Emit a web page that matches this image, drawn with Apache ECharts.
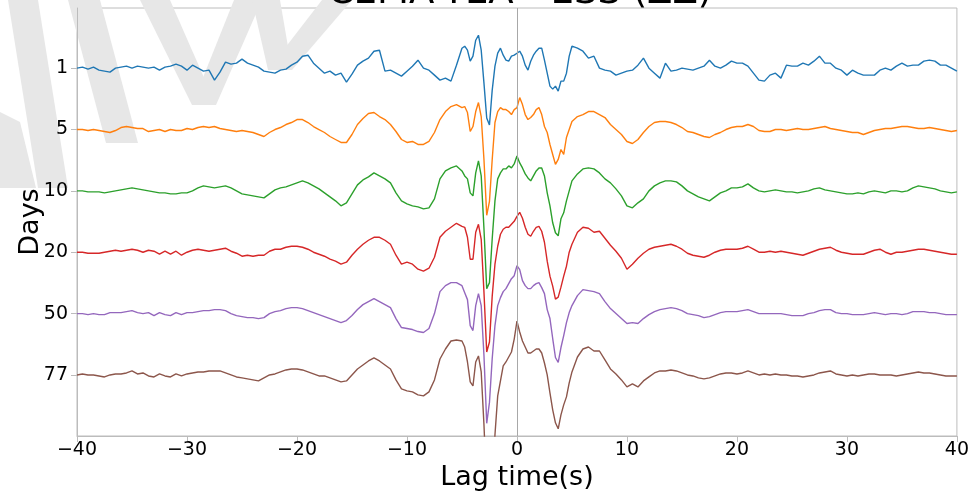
<!DOCTYPE html>
<html><head><meta charset="utf-8">
<script src="https://cdn.jsdelivr.net/npm/echarts@6/dist/echarts.min.js"></script>
<style>html,body{margin:0;padding:0;background:#fff}#c{width:972px;height:496px}</style>
</head><body><div id="c"></div>
<script>
// ---- data ----
const dayLabels = ['1', '5', '10', '20', '50', '77'];
const traceOffsets = [307.5, 246, 184.5, 123, 61.5, 0];
const xTickValues = [-40, -30, -20, -10, 0, 10, 20, 30, 40];
const seriesColors = ['#1f77b4', '#ff7f0e', '#2ca02c', '#d62728', '#9467bd', '#8c564b'];
const chartTitle = 'CEMA-YEA - ESS (ZZ)';

// sampling grid of lag times (s): 0.5 s outside, 0.25 s in the central part
const lagTimes = [];
for (let t = -40; t <= -5.5 + 1e-9; t += 0.5) lagTimes.push(t);
for (let t = -5; t <= 5 + 1e-9; t += 0.25) lagTimes.push(t);
for (let t = 5.5; t <= 40 + 1e-9; t += 0.5) lagTimes.push(t);

// waveform amplitudes (same units as traceOffsets)
const day1 = [
  0,1,-1,1,-2,-3,-4,0,1,2, 0,2,1,0,1,-2,1,2,4,2, -2,3,0,-3,-2,-12,-4,6,4,5,
  9,5,3,1,-3,-4,-5,-2,-1,3, 6,12,13,5,0,-5,-3,-7,-5,-14, -6,3,7,10,17,18,-3,-2,-5,-8,
  -3,2,8,0,-2,-7,-12,-10,-13,3,
  20,22,18,7,12,28,33,18,-15,-50,-57,-22,2,15,20,13,8,7,12,13,15,17,12,3,-2,7,13,17,20,20,8,-5,-18,-21,-18,-23,-13,-13,-5,12,22,
  20,17,10,12,0,-2,-3,-7,-5,-3, -2,3,10,0,-5,-10,5,-3,-2,0, -1,-2,0,2,8,2,0,3,7,5,
  5,2,-5,-12,-13,-7,-5,-10,3,2, 2,5,3,7,12,5,5,0,-2,-7, -2,-5,-7,-7,-7,-2,0,-2,2,5,
  2,3,3,7,8,7,3,3,0,-3
];
const day5 = [
  0,0,-1,0,-1,-2,-3,-1,2,3, 2,1,1,-2,-1,0,-2,0,-1,-1, 1,0,2,3,2,3,1,0,-1,-2,
  -1,-2,-3,-5,-7,-3,0,2,5,7, 10,10,7,3,0,-3,-7,-10,-13,-13, -5,5,11,16,17,13,10,5,-2,-10,
  -13,-12,-15,-15,-12,-3,10,18,23,25,
  22,23,17,-2,3,18,27,13,-30,-86,-72,-30,7,18,22,20,20,18,15,20,22,32,25,15,10,12,15,20,22,15,3,-3,-15,-25,-35,-30,-20,-25,-8,0,8,
  13,15,18,18,15,12,5,0,-5,-12, -14,-10,-3,3,7,8,8,7,5,2, -2,-3,-5,-7,-8,-5,-3,0,2,3,
  3,5,3,-1,-2,-2,0,0,-1,0, 1,0,0,1,2,3,1,0,-1,-2, -3,-3,-5,-3,-1,0,1,1,2,3,
  3,2,1,1,2,1,0,-1,-2,-1
];
const day10 = [
  0,0,-1,-1,-1,-2,-1,0,1,2, 3,2,1,0,-1,-2,-2,-3,-3,-2, -2,0,3,5,4,3,4,5,3,0,
  -3,-4,-5,-6,-7,-3,1,3,4,6, 8,10,8,5,2,-2,-6,-10,-15,-12, -3,6,11,14,18,15,12,8,-2,-10,
  -13,-15,-16,-18,-17,-8,12,20,23,25,
  20,15,12,-2,-5,18,30,15,-38,-98,-92,-48,-10,12,18,22,22,25,23,27,35,28,23,17,13,10,15,20,23,23,15,-2,-15,-32,-42,-45,-28,-22,-10,0,10,
  17,22,23,22,18,12,8,2,-5,-15, -17,-12,-8,0,5,8,10,10,9,5, 0,-3,-6,-8,-10,-6,-2,0,3,3,
  4,7,3,0,-1,0,1,0,-1,-1, -2,-1,0,2,3,1,0,-1,-2,-3, -3,-2,-3,-1,0,-1,-2,0,0,-1,
  0,3,5,4,3,2,0,-1,-2,-1
];
const day20 = [
  0,0,-1,-1,-1,0,1,2,1,2, 3,2,0,2,1,-2,1,-2,1,-3, 0,2,3,2,1,2,3,4,1,-1,
  -4,-3,-4,-3,-3,1,3,3,5,6, 6,5,3,0,-2,-4,-7,-9,-12,-10, -3,3,8,12,15,15,12,8,-3,-12,
  -10,-12,-17,-19,-16,-5,15,21,25,29,
  26,25,15,-7,-7,20,28,13,-40,-100,-90,-44,-12,6,18,23,25,25,28,31,36,40,34,25,18,16,21,25,26,21,10,-9,-24,-34,-47,-45,-35,-24,-14,0,8,
  20,25,24,20,21,14,7,1,-6,-17, -12,-6,-1,3,5,6,7,8,6,3, -1,-3,-4,-5,-3,0,2,3,3,3,
  4,6,3,0,0,1,0,1,0,-1, -2,-3,-1,1,3,4,5,2,0,-1, -2,-2,-2,0,2,3,0,-2,0,0,
  1,2,3,3,2,1,0,-1,-2,-2
];
const day50 = [
  0,0,-1,0,-1,-1,1,1,1,2, 3,1,0,1,-2,1,-1,-2,1,-1, 1,1,2,3,3,4,4,3,0,-2,
  -3,-4,-4,-5,-4,0,2,3,5,6, 6,5,3,1,-1,-3,-5,-7,-9,-7, -2,4,9,12,15,12,9,6,-5,-14,
  -15,-16,-18,-19,-15,0,22,28,31,31,
  28,21,14,-12,-17,8,20,8,-42,-110,-89,-45,-12,8,16,22,25,30,35,38,48,44,33,28,25,25,28,30,31,26,20,4,-5,-25,-44,-49,-34,-22,-9,1,8,
  18,24,23,22,20,12,5,0,-5,-10, -9,-10,-5,-1,2,4,5,6,5,3, 0,-1,-2,-4,-3,-1,1,2,2,2,
  3,4,2,0,0,0,0,0,-1,-2, -2,-2,0,1,3,4,4,1,0,0, -1,-1,-1,0,1,0,-1,0,0,-1,
  0,2,2,2,1,1,0,-1,-1,-1
];
const day77 = [
  0,1,0,0,-1,-2,0,1,1,2, 4,1,2,-1,-2,1,-1,-2,1,-1, 1,2,3,3,4,4,4,2,0,-2,
  -3,-4,-5,-6,-3,0,1,3,5,6, 6,5,3,1,-1,-1,-3,-5,-7,-6, 0,6,10,14,17,14,10,6,-5,-14,
  -16,-17,-20,-21,-17,-5,16,26,34,35,
  34,28,13,-7,-11,13,19,3,-50,-115,-150,-115,-60,-21,-6,9,13,18,23,36,54,43,34,28,22,22,24,26,26,22,12,0,-18,-35,-48,-54,-40,-30,-22,-8,3,
  18,26,28,24,24,15,6,1,-5,-12, -9,-12,-6,-2,2,4,4,5,4,2, 0,-1,-3,-4,-3,-1,1,2,2,1,
  2,4,2,0,1,0,1,0,0,-1, -1,-2,-1,0,2,3,4,1,0,-1, 0,-1,0,1,1,0,0,0,-1,0,
  1,2,3,2,2,1,0,-1,-1,-1
];
const traces = [day1, day5, day10, day20, day50, day77];

// ---- chart ----
const chart = echarts.init(document.getElementById('c'), null, {renderer: 'canvas'});
const FONT = 'DejaVu Sans';
const axisGrey = '#bcbcbc';

const series = traces.map((amp, i) => ({
  type: 'line',
  name: dayLabels[i],
  data: lagTimes.map((t, j) => [t, traceOffsets[i] + (amp[j] !== undefined ? amp[j] : 0)]),
  showSymbol: false,
  symbol: 'none',
  smooth: false,
  clip: true,
  z: 3,
  lineStyle: {color: seriesColors[i], width: 1.4},
  emphasis: {disabled: true},
  animation: false
}));
series[0].markLine = {
  silent: true, symbol: 'none', animation: false,
  label: {show: false},
  lineStyle: {color: '#a8a8a8', width: 1, type: 'solid'},
  data: [{xAxis: 0}]
};

const wm = '#e7e7e7';
const option = {
  animation: false,
  backgroundColor: '#ffffff',
  grid: {left: 77, right: 14, top: 8, bottom: 59, show: true, borderColor: axisGrey, borderWidth: 1, containLabel: false},
  xAxis: {
    type: 'value', min: -40, max: 40, interval: 10,
    axisLine: {show: true, onZero: false, lineStyle: {color: axisGrey, width: 1}},
    axisTick: {show: true, length: 6, lineStyle: {color: axisGrey}},
    splitLine: {show: false},
    axisLabel: {fontSize: 19, color: '#000', fontFamily: FONT, margin: 5,
      formatter: v => String(v).replace('-', '\u2212')},
    name: 'Lag time(s)', nameLocation: 'middle', nameGap: 28, nameMoveOverlap: false,
    nameTextStyle: {fontSize: 27, color: '#000', fontFamily: FONT}
  },
  yAxis: {
    type: 'value', min: -61.2, max: 367.8,
    axisLine: {show: true, onZero: false, lineStyle: {color: axisGrey, width: 1}},
    axisTick: {show: true, length: 6, lineStyle: {color: axisGrey}, customValues: traceOffsets},
    splitLine: {show: false},
    axisLabel: {fontSize: 19, color: '#000', fontFamily: FONT, margin: 9, customValues: traceOffsets,
      formatter: v => {
        let best = 0, d = 1e9;
        traceOffsets.forEach((o, k) => { if (Math.abs(o - v) < d) { d = Math.abs(o - v); best = k; } });
        return dayLabels[best];
      }},
    name: 'Days', nameLocation: 'middle', nameGap: 33, nameRotate: 90, nameMoveOverlap: false,
    nameTextStyle: {fontSize: 27, color: '#000', fontFamily: FONT}
  },
  graphic: [
    {type: 'polygon', z: 0, silent: true, shape: {points: [[8,0],[38,0],[68,188],[38,188]]}, style: {fill: wm}},
    {type: 'polygon', z: 0, silent: true, shape: {points: [[0,112],[0,188],[36,188],[20,122]]}, style: {fill: wm}},
    {type: 'polygon', z: 0, silent: true, shape: {points: [[68,0],[100,0],[138,143],[106,143]]}, style: {fill: wm}},
    {type: 'polygon', z: 0, silent: true, shape: {points: [[140,0],[170,0],[216,105],[192,105]]}, style: {fill: wm}},
    {type: 'polygon', z: 0, silent: true, shape: {points: [[192,105],[216,105],[262,0],[234,0]]}, style: {fill: wm}},
    {type: 'polygon', z: 0, silent: true, shape: {points: [[252,0],[280,0],[292,70],[268,70]]}, style: {fill: wm}},
    {type: 'polygon', z: 0, silent: true, shape: {points: [[268,70],[292,70],[352,0],[322,0]]}, style: {fill: wm}},
    {type: 'text', z: 1, silent: true, style: {text: chartTitle, x: 520, y: 12, align: 'center', verticalAlign: 'bottom',
      font: '37px "DejaVu Sans"', fill: '#000'}}
  ],
  series: series
};
chart.setOption(option);
</script>
</body></html>
